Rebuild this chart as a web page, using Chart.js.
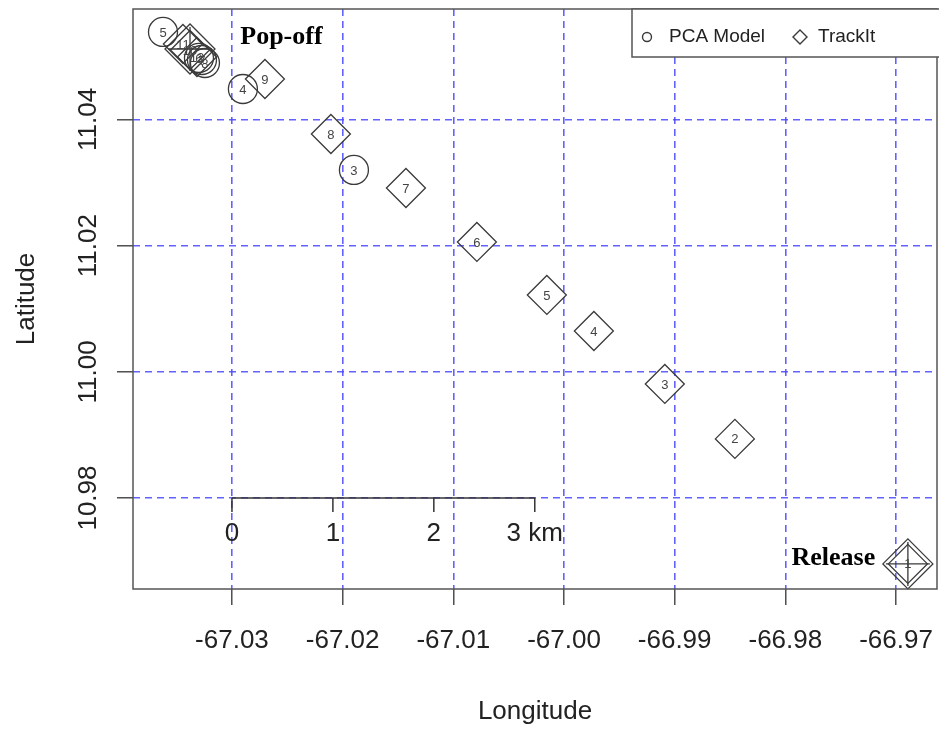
<!DOCTYPE html>
<html>
<head>
<meta charset="utf-8">
<title>PCA Model vs TrackIt</title>
<script src="https://cdn.jsdelivr.net/npm/chart.js@4.4.0/dist/chart.umd.min.js"></script>
<style>
    html, body { margin: 0; padding: 0; background: #fff; }
    #wrap { width: 939px; height: 730px; }
</style>
</head>
<body>
<div id="wrap"><canvas id="trackChart" width="939" height="730"></canvas></div>
<script>
// axes
const lonTicks = [-67.03, -67.02, -67.01, -67.00, -66.99, -66.98, -66.97];
const lonTickLabels = ['-67.03', '-67.02', '-67.01', '-67.00', '-66.99', '-66.98', '-66.97'];
const latTicks = [10.98, 11.00, 11.02, 11.04];
const latTickLabels = ['10.98', '11.00', '11.02', '11.04'];
const lonRange = [-67.03894, -66.96630];
const latRange = [10.96558, 11.05751];

// TrackIt positions
const trackLabels = ['1', '2', '3', '4', '5', '6', '7', '8', '9', '11', '10', '12'];
const trackLon = [-66.96893, -66.98456, -66.99089, -66.99730, -67.00155, -67.00787, -67.01428, -67.02106, -67.02702, -67.03443, -67.03379, -67.03316];
const trackLat = [10.96956, 10.98937, 10.99808, 11.00648, 11.01219, 11.02059, 11.02914, 11.03770, 11.04642, 11.05197, 11.05101, 11.04990];

// PCA model positions
const pcaLabels = ['3', '4', '5', '6', '7', '8'];
const pcaLon = [-67.01898, -67.02901, -67.03623, -67.03298, -67.03271, -67.03244];
const pcaLat = [11.03200, 11.04483, 11.05387, 11.04975, 11.04943, 11.04895];

// release and pop-off end points
const endLon = [-66.96893, -67.03379];
const endLat = [10.96956, 11.05117];

// text notes
const noteText = ['Pop-off', 'Release'];
const noteLon = [-67.02553, -66.97566];
const noteLat = [11.05307, 10.97051];

// scale bar along 10.98 N
const barKm = [0, 1, 2, 3];
const barKmLabels = ['0', '1', '2', '3 km'];
const barStartLon = -67.03;
const barLat = 10.98;
const degPerKm = 0.00912;

const ink = '#3a3a3a';
const gridBlue = 'rgba(70, 70, 255, 0.85)';

function toPoints(lon, lat) {
    return lon.map((x, i) => ({ x: x, y: lat[i] }));
}

const overlayPlugin = {
    id: 'overlay',
    afterDatasetsDraw(chart) {
        const ctx = chart.ctx;
        const xs = chart.scales.x;
        const ys = chart.scales.y;
        const area = chart.chartArea;

        ctx.save();
        // plot frame
        ctx.strokeStyle = '#555';
        ctx.lineWidth = 1.5;
        ctx.strokeRect(area.left, area.top, area.right - area.left, area.bottom - area.top);

        // scale bar
        const by = ys.getPixelForValue(barLat);
        const bx0 = xs.getPixelForValue(barStartLon);
        const bx1 = xs.getPixelForValue(barStartLon + barKm[barKm.length - 1] * degPerKm);
        ctx.strokeStyle = '#333';
        ctx.lineWidth = 1.5;
        ctx.beginPath();
        ctx.moveTo(bx0, by);
        ctx.lineTo(bx1, by);
        ctx.stroke();
        ctx.font = '26px "Liberation Sans", Arial, sans-serif';
        ctx.fillStyle = '#222';
        ctx.textAlign = 'center';
        ctx.textBaseline = 'middle';
        barKm.forEach((km, i) => {
            const tx = xs.getPixelForValue(barStartLon + km * degPerKm);
            ctx.beginPath();
            ctx.moveTo(tx, by);
            ctx.lineTo(tx, by + 14);
            ctx.stroke();
            ctx.fillText(barKmLabels[i], tx, by + 36);
        });

        // numbers inside the markers
        ctx.font = '13px "Liberation Sans", Arial, sans-serif';
        ctx.fillStyle = '#444';
        chart.data.datasets.forEach((ds, di) => {
            if (!ds.pointLabels) return;
            const meta = chart.getDatasetMeta(di);
            meta.data.forEach((pt, i) => {
                ctx.fillText(ds.pointLabels[i], pt.x, pt.y + 1);
            });
        });

        // notes
        ctx.font = 'bold 26px "Liberation Serif", "Times New Roman", serif';
        ctx.fillStyle = '#000';
        noteText.forEach((t, i) => {
            ctx.fillText(t, xs.getPixelForValue(noteLon[i]), ys.getPixelForValue(noteLat[i]));
        });
        ctx.restore();
    },
    afterDraw(chart) {
        const ctx = chart.ctx;
        const xs = chart.scales.x;
        const ys = chart.scales.y;
        const area = chart.chartArea;

        ctx.save();
        // tick labels and titles
        ctx.font = '26px "Liberation Sans", Arial, sans-serif';
        ctx.fillStyle = '#222';
        ctx.textAlign = 'center';
        ctx.textBaseline = 'middle';
        lonTicks.forEach((v, i) => {
            ctx.fillText(lonTickLabels[i], xs.getPixelForValue(v), 641);
        });
        ctx.fillText('Longitude', (area.left + area.right) / 2, 712);
        latTicks.forEach((v, i) => {
            ctx.save();
            ctx.translate(89, ys.getPixelForValue(v));
            ctx.rotate(-Math.PI / 2);
            ctx.fillText(latTickLabels[i], 0, 0);
            ctx.restore();
        });
        ctx.save();
        ctx.translate(27, (area.top + area.bottom) / 2);
        ctx.rotate(-Math.PI / 2);
        ctx.fillText('Latitude', 0, 0);
        ctx.restore();

        // legend, top right
        const lx = 632, ly = area.top;
        ctx.fillStyle = '#fff';
        ctx.fillRect(lx, ly, 320, 48);
        ctx.strokeStyle = '#555';
        ctx.lineWidth = 1.5;
        ctx.strokeRect(lx, ly, 320, 48);
        ctx.strokeStyle = ink;
        ctx.lineWidth = 1.4;
        ctx.beginPath();
        ctx.arc(lx + 15, ly + 28, 4.5, 0, Math.PI * 2);
        ctx.stroke();
        ctx.beginPath();
        ctx.moveTo(lx + 168, ly + 21);
        ctx.lineTo(lx + 175, ly + 28);
        ctx.lineTo(lx + 168, ly + 35);
        ctx.lineTo(lx + 161, ly + 28);
        ctx.closePath();
        ctx.stroke();
        ctx.font = '19px "Liberation Sans", Arial, sans-serif';
        ctx.fillStyle = '#222';
        ctx.textAlign = 'left';
        ctx.fillText('PCA Model', lx + 37, ly + 28);
        ctx.fillText('TrackIt', lx + 186, ly + 28);
        ctx.restore();
    }
};

const ctx = document.getElementById('trackChart').getContext('2d');

new Chart(ctx, {
    type: 'scatter',
    data: {
        datasets: [
            {
                label: 'PCA Model',
                data: toPoints(pcaLon, pcaLat),
                pointLabels: pcaLabels,
                pointStyle: 'circle',
                pointRadius: 14.5,
                borderColor: ink,
                borderWidth: 1.3,
                backgroundColor: 'transparent',
                clip: false
            },
            {
                label: 'TrackIt',
                data: toPoints(trackLon, trackLat),
                pointLabels: trackLabels,
                pointStyle: 'rectRot',
                pointRadius: 19.5,
                borderColor: ink,
                borderWidth: 1.3,
                backgroundColor: 'transparent',
                clip: false
            },
            {
                label: 'ends',
                data: toPoints(endLon, endLat),
                pointStyle: 'rectRot',
                pointRadius: 25,
                borderColor: ink,
                borderWidth: 1.3,
                backgroundColor: 'transparent',
                clip: false
            },
            {
                label: 'ends cross',
                data: toPoints(endLon, endLat),
                pointStyle: 'cross',
                pointRadius: 22,
                borderColor: ink,
                borderWidth: 1.3,
                backgroundColor: 'transparent',
                clip: false
            }
        ]
    },
    options: {
        responsive: false,
        maintainAspectRatio: false,
        animation: false,
        events: [],
        layout: { autoPadding: false, padding: { top: 9, left: 0, right: 2, bottom: 0 } },
        plugins: {
            legend: { display: false },
            tooltip: { enabled: false }
        },
        scales: {
            x: {
                type: 'linear',
                min: lonRange[0],
                max: lonRange[1],
                afterBuildTicks: (scale) => { scale.ticks = lonTicks.map(v => ({ value: v })); },
                afterFit: (scale) => { scale.height = 141; },
                ticks: { display: false },
                grid: {
                    color: gridBlue,
                    lineWidth: 1.6,
                    borderDash: [7, 5],
                    tickLength: 16,
                    tickColor: '#333',
                    tickWidth: 1.3,
                    tickBorderDash: []
                },
                border: { display: false, dash: [7, 5] }
            },
            y: {
                type: 'linear',
                min: latRange[0],
                max: latRange[1],
                afterBuildTicks: (scale) => { scale.ticks = latTicks.map(v => ({ value: v })); },
                afterFit: (scale) => { scale.width = 133; },
                ticks: { display: false },
                grid: {
                    color: gridBlue,
                    lineWidth: 1.6,
                    borderDash: [7, 5],
                    tickLength: 16,
                    tickColor: '#333',
                    tickWidth: 1.3,
                    tickBorderDash: []
                },
                border: { display: false, dash: [7, 5] }
            }
        }
    },
    plugins: [overlayPlugin]
});
</script>
</body>
</html>
